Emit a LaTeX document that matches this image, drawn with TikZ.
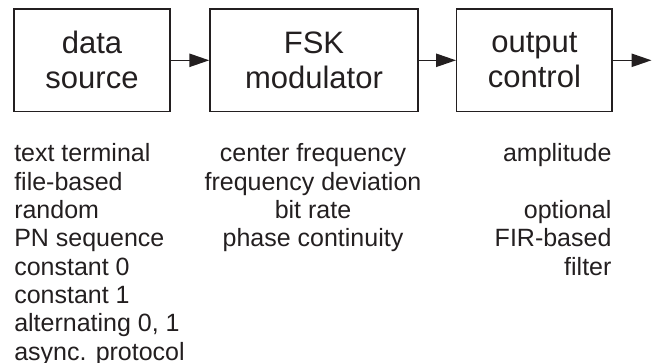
\documentclass[tikz,border=0pt]{standalone}
\usepackage{fontspec}
\setmainfont{Liberation Sans}
\usetikzlibrary{arrows.meta}
\definecolor{ink}{HTML}{231F20}
\begin{document}
\begin{tikzpicture}[x=0.75pt,y=0.75pt,yscale=-1,xscale=1,
	blk/.style={draw=ink,line width=1.1pt,minimum height=77pt,align=center,inner sep=0pt,text=ink,font=\fontsize{23.25}{26.25}\selectfont},
	flow/.style={draw=ink,line width=1.1pt,-{Triangle[length=15pt,width=10pt]}},
	lst/.style={inner sep=0pt,text=ink,font=\fontsize{18.75}{21.25}\selectfont}]
	\useasboundingbox (0,0) rectangle (657,362);
	
	% Blocks
	\node[blk,minimum width=117pt] (src) at (92,60.3) {data\\source};
	\node[blk,minimum width=156pt] (mod) at (314,60.3) {FSK\\modulator};
	\node[blk,minimum width=116.5pt] (outc) at (534.4,60.3) {output\\control};
	\coordinate (sink) at (651.5,60.3);
	
	% Arrows
	\draw[flow] (src) -- (mod);
	\draw[flow] (mod) -- (outc);
	\draw[flow] (outc) -- (sink);
	
	% Text Node
	\node[lst,anchor=north west,align=left] (srclist) at (14,143.5) {text terminal\\file-based\\random\\PN sequence\\constant 0\\constant 1\\alternating 0, 1\\async. protocol};
	% Text Node
	\node[lst,anchor=north,align=center] (modlist) at (313,143.5) {center frequency\\frequency deviation\\bit rate\\phase continuity};
	% Text Node
	\node[lst,anchor=north east,align=right] (outlist) at (611.7,143.5) {amplitude\\[21.25pt]optional\\FIR-based\\filter};
\end{tikzpicture}
\end{document}
